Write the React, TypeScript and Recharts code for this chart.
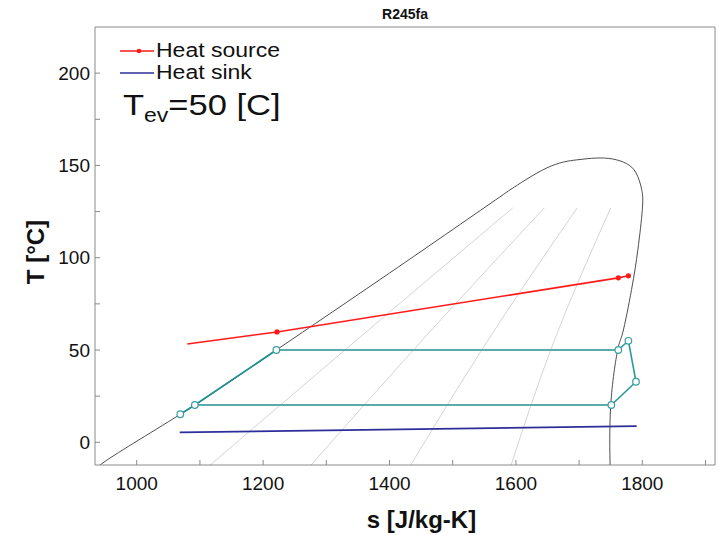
import React from "react";
import { LineChart, Line, XAxis, YAxis } from "recharts";

// saturation dome of R245fa, s [J/kg-K] vs T [°C]
const domeS = [937, 942, 1069, 1221, 1400, 1574, 1595, 1648, 1696, 1727, 1753, 1775, 1790, 1799, 1800, 1793, 1783, 1769, 1761, 1750, 1749, 1749];
const domeT = [-20, -12.3, 15.2, 50, 91.7, 132.8, 137.7, 148.5, 153, 154, 153.5, 151, 146, 137, 126, 104.5, 82.8, 59.4, 50, 20, -12.3, -20];

// constant-quality lines (x = 0.2, 0.4, 0.6, 0.8)
const isoS = [
  [1090, 1348, 1595],
  [1256, 1452, 1645],
  [1420, 1556, 1697],
  [1585, 1661, 1750],
];
const isoT = [-20, 55.4, 127];

const sourceS = [1080, 1222, 1762, 1778];
const sourceT = [53.3, 59.8, 89.1, 90.2];

const sinkS = [1068, 1791];
const sinkT = [5.4, 8.8];

// cycle states
const cycleS = [1069, 1092, 1221, 1762, 1778, 1790, 1751];
const cycleT = [15.2, 20.2, 50, 50, 55, 32.8, 20.2];

const xTicks = [1000, 1100, 1200, 1300, 1400, 1500, 1600, 1700, 1800, 1900];
const yTicks = [0, 25, 50, 75, 100, 125, 150, 175, 200];

const pts = (xs: number[], ys: number[]) => xs.map((s, i) => ({ s, T: ys[i] }));
const cyc = (idx: number[]) => idx.map((i) => ({ s: cycleS[i], T: cycleT[i] }));

const font = "'Liberation Sans', Arial, sans-serif";
const frame = "#8a8a8a";

const openDot = (p: any) => (
  <circle key={`d${p.index}`} cx={p.cx} cy={p.cy} r={3.3} fill="#fff" stroke="#3a9fa0" strokeWidth={1.2} />
);

const LegendBox = () => (
  <div style={{ position: "absolute", left: 120, top: 39, fontFamily: font, fontSize: 20, color: "#111", lineHeight: "22px" }}>
    <div style={{ display: "flex", alignItems: "center" }}>
      <svg width={36} height={22}>
        <line x1={0} y1={12} x2={34} y2={12} stroke="#ff1a1a" strokeWidth={1.5} />
        <circle cx={19} cy={12} r={2.3} fill="#ff1a1a" />
      </svg>
      <span style={{ display: "inline-block", transform: "scaleX(1.15)", transformOrigin: "left" }}>Heat source</span>
    </div>
    <div style={{ display: "flex", alignItems: "center" }}>
      <svg width={36} height={22}>
        <line x1={0} y1={12} x2={34} y2={12} stroke="#2e2e9a" strokeWidth={1.5} />
      </svg>
      <span style={{ display: "inline-block", transform: "scaleX(1.15)", transformOrigin: "left" }}>Heat sink</span>
    </div>
  </div>
);

export default function App() {
  return (
    <div style={{ position: "absolute", left: 0, top: 0, width: 719, height: 535, background: "#fff", fontFamily: font }}>
      <LineChart width={719} height={535} margin={{ top: 26, right: 3, bottom: 0, left: 0 }}>
        <XAxis
          xAxisId="b"
          dataKey="s"
          type="number"
          domain={[934, 1915]}
          allowDataOverflow
          ticks={xTicks}
          tickFormatter={(v: number) => (v % 200 === 0 && v < 1900 ? String(v) : "")}
          tickSize={-5}
          tickMargin={17}
          height={70}
          stroke={frame}
          tick={{ fill: "#111", fontSize: 19, fontFamily: font }}
        />
        <XAxis
          xAxisId="t"
          orientation="top"
          dataKey="s"
          type="number"
          domain={[934, 1915]}
          allowDataOverflow
          ticks={xTicks}
          tick={false}
          tickSize={-5}
          height={1}
          stroke={frame}
        />
        <YAxis
          yAxisId="l"
          dataKey="T"
          type="number"
          domain={[-12.3, 225]}
          allowDataOverflow
          ticks={yTicks}
          tickFormatter={(v: number) => (v % 50 === 0 ? String(v) : "")}
          tickSize={-5}
          tickMargin={10}
          width={95}
          stroke={frame}
          tick={{ fill: "#111", fontSize: 19, fontFamily: font }}
        />
        <YAxis
          yAxisId="r"
          orientation="right"
          dataKey="T"
          type="number"
          domain={[-12.3, 225]}
          allowDataOverflow
          ticks={yTicks}
          tick={false}
          tickSize={-5}
          width={1}
          stroke={frame}
        />
        {isoS.map((xs, k) => (
          <Line
            key={`iso${k}`}
            xAxisId="b"
            yAxisId="l"
            data={pts(xs, isoT)}
            dataKey="T"
            type="natural"
            stroke="#cfcfcf"
            strokeWidth={0.9}
            dot={false}
            isAnimationActive={false}
          />
        ))}
        <Line
          xAxisId="b"
          yAxisId="l"
          data={pts(domeS, domeT)}
          dataKey="T"
          type="natural"
          stroke="#3a3a3a"
          strokeWidth={0.9}
          dot={false}
          isAnimationActive={false}
        />
        <Line
          xAxisId="b"
          yAxisId="l"
          data={pts(sinkS, sinkT)}
          dataKey="T"
          stroke="#2e2e9a"
          strokeWidth={1.8}
          dot={false}
          isAnimationActive={false}
        />
        <Line
          xAxisId="b"
          yAxisId="l"
          data={pts(sourceS, sourceT)}
          dataKey="T"
          stroke="#ff1a1a"
          strokeWidth={1.6}
          dot={(p: any) =>
            p.index > 0 ? (
              <circle key={`r${p.index}`} cx={p.cx} cy={p.cy} r={2.6} fill="#ff1a1a" />
            ) : (
              <g key={`r${p.index}`} />
            )
          }
          isAnimationActive={false}
        />
        <Line xAxisId="b" yAxisId="l" data={cyc([2, 3])} dataKey="T" stroke="#5aabab" strokeWidth={2} dot={false} isAnimationActive={false} />
        <Line xAxisId="b" yAxisId="l" data={cyc([6, 1])} dataKey="T" stroke="#5aabab" strokeWidth={2} dot={false} isAnimationActive={false} />
        <Line xAxisId="b" yAxisId="l" data={cyc([0, 1, 2])} dataKey="T" stroke="#1f8f92" strokeWidth={1.8} dot={openDot} isAnimationActive={false} />
        <Line xAxisId="b" yAxisId="l" data={cyc([3, 4, 5, 6])} dataKey="T" stroke="#2a9a9c" strokeWidth={1.6} dot={openDot} isAnimationActive={false} />
      </LineChart>
      <LegendBox />
      <div style={{ position: "absolute", left: 0, top: 6, width: 810, textAlign: "center", fontSize: 14, fontWeight: "bold", color: "#111" }}>
        R245fa
      </div>
      <div
        style={{
          position: "absolute",
          left: 123,
          top: 88,
          fontSize: 30,
          color: "#111",
          whiteSpace: "nowrap",
          transform: "scaleX(1.15)",
          transformOrigin: "left",
        }}
      >
        T<sub style={{ fontSize: 20 }}>ev</sub>=50 [C]
      </div>
      <div style={{ position: "absolute", left: 0, top: 506, width: 843, textAlign: "center", fontSize: 24, fontWeight: "bold", color: "#111" }}>
        s [J/kg-K]
      </div>
      <div
        style={{
          position: "absolute",
          left: 36,
          top: 252,
          fontSize: 24,
          fontWeight: "bold",
          color: "#111",
          whiteSpace: "nowrap",
          transform: "translate(-50%, -50%) rotate(-90deg)",
        }}
      >
        T [°C]
      </div>
    </div>
  );
}
